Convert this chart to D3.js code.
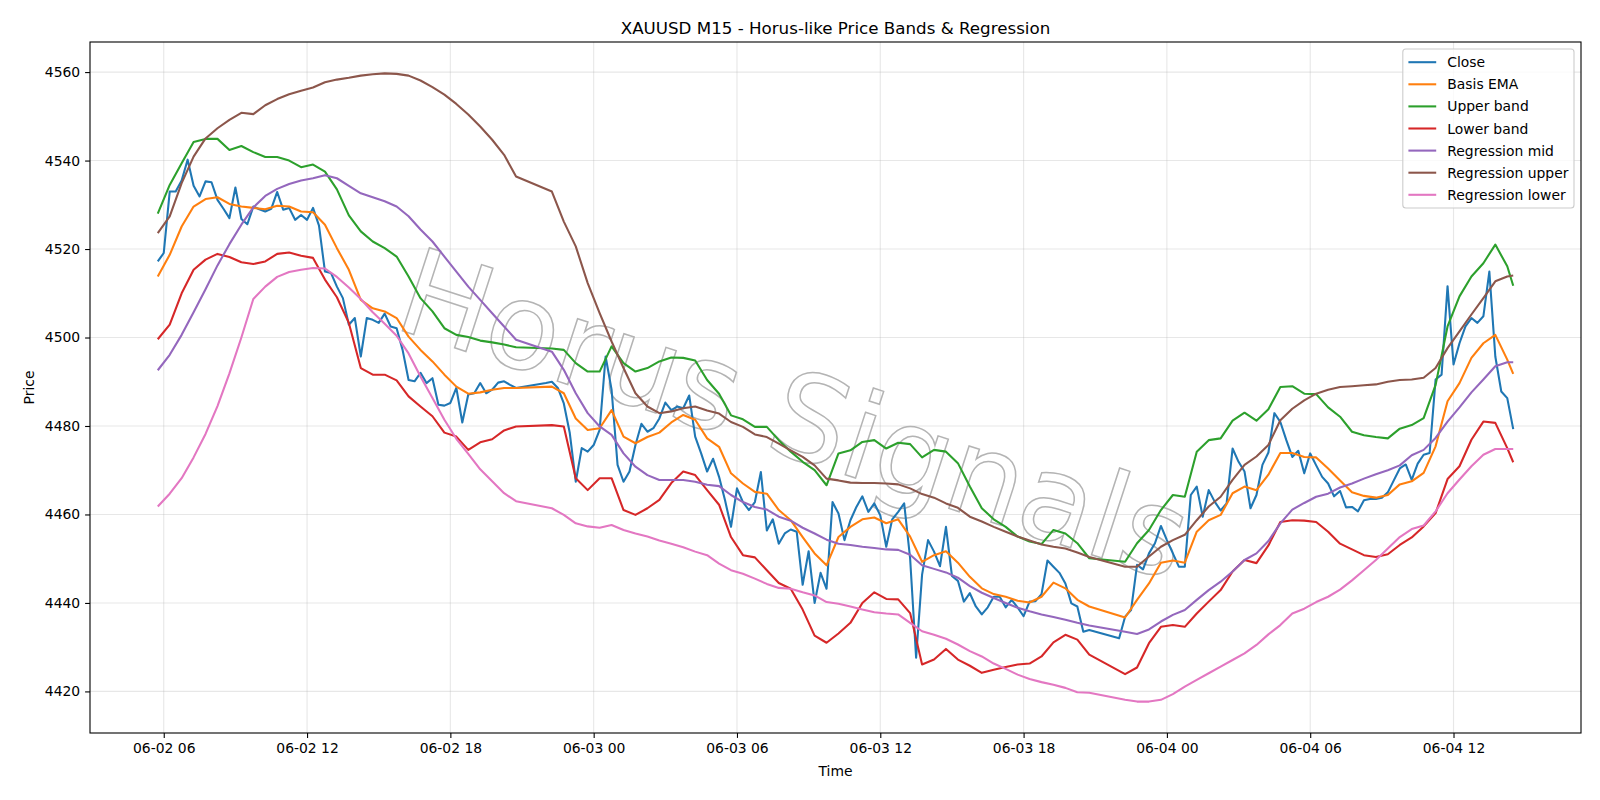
<!DOCTYPE html>
<html>
<head>
<meta charset="utf-8">
<script src="https://cdn.jsdelivr.net/npm/d3@7"></script>
<style>
    body { margin: 0; background: #fff; }
    text { font-family: "DejaVu Sans", sans-serif; }
</style>
</head>
<body>
<svg id="chart" width="1600" height="800"></svg>
<script>
// M15 bars, trading sessions (daily break 21:00-22:00 has no bars)
let sessions = [
    ["2025-06-02T05:45:00Z", "2025-06-02T20:45:00Z"],
    ["2025-06-02T22:00:00Z", "2025-06-03T20:45:00Z"],
    ["2025-06-03T22:00:00Z", "2025-06-04T14:30:00Z"]
]

// close, one value per bar
let close = [
    4517.2, 4519.1, 4533.0, 4533.0, 4535.5, 4540.2, 4534.3, 4531.9, 4535.3, 4535.1,
    4531.1, 4529.1, 4527.0, 4533.9, 4526.8, 4525.6, 4529.6, 4529.0, 4528.5, 4529.1,
    4532.9, 4528.9, 4529.3, 4526.6, 4527.7, 4526.6, 4529.3, 4525.3, 4514.9, 4514.6,
    4511.5, 4508.9, 4502.9, 4504.4, 4495.7, 4504.4, 4504.0, 4503.3, 4505.4, 4502.5,
    4502.1, 4497.2, 4490.4, 4490.1, 4492.0, 4489.7, 4490.8, 4484.8, 4484.6, 4485.2,
    4488.6, 4480.8, 4487.1, 4487.4, 4489.7, 4487.4, 4488.2, 4489.8, 4490.1, 4489.3,
    4488.6,
    4489.7, 4490.0, 4488.6, 4485.1, 4478.4, 4467.4, 4475.0, 4474.2, 4475.7, 4479.1,
    4495.7, 4488.2, 4471.2, 4467.4, 4469.7, 4475.7, 4480.5, 4478.7, 4479.5, 4481.7,
    4485.3, 4483.6, 4484.4, 4484.0, 4486.9, 4477.6, 4473.8, 4469.7, 4472.6, 4468.5,
    4463.2, 4457.2, 4465.9, 4462.8, 4461.0, 4462.8, 4469.6, 4456.4, 4458.9, 4453.4,
    4455.7, 4456.6, 4456.1, 4444.1, 4451.7, 4440.0, 4446.8, 4443.2, 4462.8, 4460.2,
    4454.2, 4458.7, 4461.7, 4464.1, 4460.6, 4462.5, 4459.8, 4452.7, 4458.9, 4460.6,
    4462.5, 4450.0, 4427.6, 4446.4, 4454.2, 4451.6, 4448.3, 4457.2, 4446.1, 4445.0,
    4440.3, 4442.2, 4439.2, 4437.4, 4439.0, 4441.4, 4441.4, 4439.0, 4440.7, 4439.0,
    4437.0, 4440.3, 4440.4, 4442.0, 4449.6, 4448.2, 4446.8, 4444.4, 4439.9, 4439.2,
    4433.5, 4433.9,
    4432.0, 4436.9, 4438.4, 4448.6, 4447.6, 4451.2, 4453.5, 4457.4, 4454.2, 4451.2,
    4448.2, 4448.2, 4464.4, 4466.3, 4459.5, 4465.5, 4462.9, 4460.9, 4462.5, 4474.9,
    4471.9, 4469.7, 4461.4, 4464.4, 4471.2, 4474.0, 4482.9, 4480.9, 4476.8, 4473.0,
    4474.4, 4469.3, 4473.8, 4471.1, 4468.5, 4467.0, 4464.1, 4465.3, 4461.6, 4461.7,
    4460.7, 4463.2, 4463.5, 4463.5, 4463.8, 4465.0, 4467.7, 4470.4, 4471.3, 4467.8,
    4471.5, 4473.5, 4473.9, 4490.5, 4491.6, 4511.6, 4493.9, 4498.7, 4502.5, 4504.4,
    4503.3, 4504.8, 4514.9, 4495.7, 4487.8, 4486.3, 4479.3
]

// the other lines: read every 2nd bar, plus the last bar
let basisEma = [
    4513.8, 4518.7, 4525.1, 4529.6, 4531.3, 4531.7, 4530.2, 4529.6, 4529.3, 4529.0,
    4529.8, 4529.6, 4528.5, 4528.3, 4525.5, 4520.2, 4515.3, 4508.5, 4506.6, 4505.9,
    4504.4, 4500.2, 4497.2, 4494.6, 4491.6, 4488.9, 4487.3, 4487.6, 4488.2, 4488.6,
    4488.6,
    4488.9, 4487.4, 4481.7, 4479.1, 4479.5, 4483.6, 4477.6, 4476.1, 4477.5, 4478.5,
    4480.8, 4482.5, 4481.4, 4477.2, 4475.3, 4469.3, 4467.0, 4465.1, 4464.7, 4461.0,
    4458.7, 4454.9, 4451.2, 4448.5, 4454.9, 4457.2, 4458.9, 4459.3, 4458.0, 4458.9,
    4455.0, 4449.3, 4450.8, 4451.7, 4449.1, 4445.9, 4443.3, 4442.0, 4441.4, 4440.5,
    4440.1, 4441.4, 4444.6, 4443.3, 4440.7, 4439.2,
    4436.7, 4440.7, 4444.4, 4449.1, 4449.6, 4449.1, 4456.1, 4458.7, 4459.9, 4464.8,
    4466.3, 4465.5, 4469.0, 4473.9, 4473.9, 4473.0, 4472.9, 4470.4, 4467.7, 4465.0,
    4464.2, 4463.8, 4464.4, 4466.8, 4467.5, 4469.4, 4475.4, 4485.6, 4489.7, 4495.4,
    4498.7, 4500.6, 4495.0,
    4491.8
]

let upperBand = [
    4528.0, 4534.5, 4539.4, 4544.2, 4544.9, 4544.9, 4542.4, 4543.3, 4541.9, 4540.8,
    4540.8, 4540.0, 4538.5, 4539.1, 4537.5, 4533.5, 4527.6, 4524.0, 4521.7, 4520.2,
    4518.3, 4513.8, 4508.9, 4505.9, 4502.1, 4500.6, 4500.1, 4499.3, 4498.9, 4498.4,
    4497.8,
    4497.5, 4497.2, 4494.2, 4492.3, 4492.3, 4498.0, 4494.2, 4492.3, 4493.1, 4494.6,
    4495.5, 4495.4, 4494.8, 4490.4, 4487.3, 4482.4, 4481.5, 4479.8, 4479.8, 4476.8,
    4474.2, 4471.9, 4470.0, 4466.6, 4473.8, 4474.5, 4476.4, 4476.8, 4474.9, 4476.2,
    4475.9, 4472.9, 4474.6, 4474.2, 4471.6, 4466.3, 4461.4, 4458.9, 4457.2, 4455.0,
    4453.9, 4453.3, 4456.5, 4455.7, 4453.5, 4450.1,
    4449.3, 4453.5, 4456.5, 4461.0, 4464.4, 4464.0, 4474.2, 4476.8, 4477.2, 4481.2,
    4483.0, 4481.2, 4483.8, 4488.8, 4489.0, 4487.3, 4487.2, 4484.2, 4482.1, 4478.7,
    4477.9, 4477.5, 4477.2, 4479.4, 4480.2, 4481.8, 4489.3, 4502.5, 4509.3, 4513.8,
    4516.8, 4521.0, 4516.1,
    4511.7
]

let lowerBand = [
    4499.6, 4502.9, 4510.0, 4515.3, 4517.6, 4518.9, 4518.2, 4517.0, 4516.6, 4517.2,
    4518.9, 4519.2, 4518.5, 4518.0, 4513.1, 4509.1, 4503.3, 4493.1, 4491.6, 4491.6,
    4490.3, 4486.7, 4484.4, 4482.2, 4478.5, 4477.6, 4474.6, 4476.3, 4477.0, 4479.0,
    4479.9,
    4480.2, 4479.9, 4468.2, 4465.5, 4468.2, 4468.2, 4461.0, 4459.9, 4461.4, 4463.3,
    4467.1, 4469.7, 4468.9, 4465.5, 4462.2, 4454.9, 4450.8, 4450.3, 4447.4, 4444.5,
    4443.2, 4438.5, 4432.6, 4431.0, 4433.1, 4435.5, 4440.0, 4442.4, 4440.9, 4440.8,
    4437.7, 4426.1, 4427.2, 4429.6, 4427.2, 4425.8, 4424.2, 4424.9, 4425.5, 4426.1,
    4426.3, 4427.9, 4431.1, 4432.8, 4431.7, 4428.3,
    4423.9, 4425.4, 4430.9, 4434.6, 4435.0, 4434.6, 4437.6, 4440.3, 4442.9, 4447.1,
    4449.7, 4449.0, 4453.0, 4458.3, 4458.7, 4458.6, 4458.3, 4456.1, 4453.4, 4452.1,
    4450.8, 4450.4, 4451.0, 4453.1, 4454.8, 4457.3, 4460.3, 4468.0, 4470.9, 4476.9,
    4481.0, 4480.7, 4475.0,
    4471.8
]

let regMid = [
    4492.6, 4496.1, 4500.6, 4505.7, 4510.9, 4516.3, 4521.1, 4525.5, 4529.4, 4532.0,
    4533.6, 4534.7, 4535.5, 4536.0, 4536.7, 4536.0, 4534.3, 4532.6, 4531.7, 4530.8,
    4529.6, 4527.4, 4524.4, 4521.7, 4518.3, 4514.9, 4511.5, 4508.5, 4505.5, 4502.5,
    4499.5,
    4496.8, 4492.7, 4487.4, 4482.9, 4479.9, 4478.0, 4473.8, 4470.8, 4468.9, 4467.8,
    4467.8, 4467.8, 4467.4, 4466.7, 4466.4, 4464.4, 4462.8, 4461.7, 4461.1, 4459.5,
    4458.6, 4457.0, 4455.7, 4454.3, 4453.4, 4453.1, 4452.7, 4452.4, 4452.1, 4452.0,
    4450.9, 4448.5, 4447.7, 4446.9, 4445.7, 4443.8, 4442.3, 4441.1, 4440.0, 4438.9,
    4438.1, 4437.4, 4436.8, 4436.2, 4435.5, 4434.9,
    4433.5, 4433.0, 4434.0, 4435.8, 4437.3, 4438.4, 4440.7, 4442.9, 4444.8, 4447.1,
    4449.7, 4451.2, 4454.0, 4458.0, 4461.1, 4462.6, 4464.0, 4464.7, 4466.1, 4467.0,
    4468.1, 4469.1, 4470.0, 4471.1, 4473.4, 4474.6, 4477.3, 4481.0, 4484.2, 4487.6,
    4490.5, 4493.5, 4494.4,
    4494.4
]

let regUpper = [
    4523.6, 4527.4, 4534.9, 4540.9, 4545.0, 4547.3, 4549.2, 4550.8, 4550.5, 4552.5,
    4553.9, 4555.0, 4555.8, 4556.5, 4557.7, 4558.3, 4558.7, 4559.2, 4559.5, 4559.7,
    4559.6, 4559.2, 4558.1, 4556.6, 4554.9, 4552.8, 4550.4, 4547.7, 4544.7, 4541.3,
    4536.4,
    4533.0, 4526.2, 4520.6, 4512.3, 4505.5, 4499.1, 4493.1, 4487.4, 4484.4, 4482.9,
    4483.3, 4484.0, 4484.4, 4483.5, 4482.8, 4480.9, 4479.8, 4478.1, 4477.5, 4476.0,
    4474.5, 4473.0, 4471.1, 4468.1, 4467.7, 4467.2, 4467.1, 4467.1, 4467.0, 4466.8,
    4465.9, 4464.6, 4463.8, 4462.5, 4461.5, 4459.5, 4458.4, 4457.2, 4456.1, 4455.0,
    4454.1, 4453.2, 4452.7, 4452.3, 4451.4, 4450.4,
    4448.2, 4448.2, 4450.5, 4452.7, 4454.2, 4455.4, 4458.7, 4461.8, 4464.0, 4467.8,
    4471.2, 4473.1, 4475.7, 4481.3, 4483.9, 4485.8, 4487.3, 4488.2, 4488.8, 4489.0,
    4489.2, 4489.4, 4490.0, 4490.4, 4490.5, 4490.9, 4493.1, 4497.6, 4501.4, 4505.2,
    4508.9, 4512.7, 4513.8,
    4514.0
]

let regLower = [
    4461.8, 4464.7, 4468.2, 4472.9, 4478.2, 4484.5, 4491.9, 4500.0, 4508.7, 4511.5,
    4513.7, 4514.8, 4515.3, 4515.7, 4515.6, 4513.7, 4511.3, 4508.7, 4505.7, 4503.1,
    4500.4, 4496.4, 4491.2, 4486.3, 4481.4, 4477.1, 4473.7, 4470.2, 4467.5, 4464.8,
    4463.0,
    4461.4, 4459.9, 4458.0, 4457.3, 4457.0, 4457.6, 4456.5, 4455.7, 4455.0, 4454.1,
    4453.4, 4452.6, 4451.6, 4450.8, 4448.9, 4447.4, 4446.6, 4445.5, 4444.3, 4443.4,
    4443.2, 4442.4, 4441.7, 4440.2, 4439.8, 4439.2, 4438.5, 4437.9, 4437.6, 4437.4,
    4435.5, 4433.6, 4432.8, 4431.9, 4430.6, 4429.1, 4427.9, 4426.3, 4425.1, 4423.8,
    4422.8, 4422.1, 4421.5, 4420.8, 4419.8, 4419.7,
    4418.1, 4417.7, 4417.7, 4418.1, 4419.4, 4421.1, 4422.6, 4424.1, 4425.6, 4427.1,
    4428.6, 4430.5, 4432.9, 4435.0, 4437.6, 4438.7, 4440.2, 4441.4, 4443.0, 4445.1,
    4447.4, 4449.7, 4452.3, 4454.9, 4456.7, 4457.5, 4460.7, 4464.8, 4467.9, 4470.9,
    4473.5, 4474.8, 4474.8,
    4474.8
]

let seriesNames = ["Close", "Basis EMA", "Upper band", "Lower band", "Regression mid", "Regression upper", "Regression lower"]
let colors = ["#1f77b4", "#ff7f0e", "#2ca02c", "#d62728", "#9467bd", "#8c564b", "#e377c2"]

let titleText = "XAUUSD M15 - Horus-like Price Bands & Regression"
let watermark = "Horus Signals"


// ---- layout (matplotlib 16x8 figure at 100 dpi)
let width = 1600
let height = 800
let plot = { left: 90, right: 1581, top: 42, bottom: 733 }
let fontMain = 13.9

let svg = d3.select('#chart')

svg.append('rect')
    .attr('width', width)
    .attr('height', height)
    .attr('fill', 'white')

// bar times
let bars = []
sessions.forEach(s => {
    let a = new Date(s[0])
    let b = new Date(s[1])
    bars = bars.concat(d3.utcMinute.every(15).range(a, new Date(+b + 1)))
})
let halfIdx = bars.map((d, i) => i).filter(i => i % 2 == 0 || i == bars.length - 1)
let halfBars = halfIdx.map(i => bars[i])

let seriesValues = [close, basisEma, upperBand, lowerBand, regMid, regUpper, regLower]
let series = seriesNames.map((name, k) => {
    let times = k == 0 ? bars : halfBars
    return {
        name: name,
        color: colors[k],
        points: seriesValues[k].map((v, i) => ({ t: times[i], v: v }))
    }
})

// scales with 5% margins like matplotlib
let t0 = bars[0]
let t1 = bars[bars.length - 1]
let tPad = (t1 - t0) * 0.05
let x = d3.scaleUtc()
    .domain([new Date(+t0 - tPad), new Date(+t1 + tPad)])
    .range([plot.left, plot.right])

let allValues = [].concat(...seriesValues)
let vMin = d3.min(allValues)
let vMax = d3.max(allValues)
let vPad = (vMax - vMin) * 0.05
let y = d3.scaleLinear()
    .domain([vMin - vPad, vMax + vPad])
    .range([plot.bottom, plot.top])

let xTicks = d3.utcHour.every(6).range(x.domain()[0], x.domain()[1])
let yTicks = y.ticks(8)

// grid
let grid = svg.append('g')
grid.selectAll('.vgrid')
    .data(xTicks)
    .enter()
    .append('line')
    .attr('x1', d => x(d))
    .attr('x2', d => x(d))
    .attr('y1', plot.top)
    .attr('y2', plot.bottom)
    .attr('stroke', '#b0b0b0')
    .attr('stroke-opacity', 0.3)
    .attr('stroke-width', 1.1)
grid.selectAll('.hgrid')
    .data(yTicks)
    .enter()
    .append('line')
    .attr('x1', plot.left)
    .attr('x2', plot.right)
    .attr('y1', d => y(d))
    .attr('y2', d => y(d))
    .attr('stroke', '#b0b0b0')
    .attr('stroke-opacity', 0.3)
    .attr('stroke-width', 1.1)

// watermark
let wmX = 795
let wmY = 413
svg.append('text')
    .text(watermark)
    .attr('x', wmX)
    .attr('y', wmY)
    .attr('dy', '0.36em')
    .attr('text-anchor', 'middle')
    .attr('font-size', 120)
    .attr('fill', 'none')
    .attr('stroke', '#b4b4b4')
    .attr('stroke-width', 1.5)
    .attr('transform', `rotate(18, ${wmX}, ${wmY})`)

// lines
let line = d3.line()
    .x(d => x(d.t))
    .y(d => y(d.v))

svg.append('g')
    .selectAll('path')
    .data(series)
    .enter()
    .append('path')
    .attr('d', d => line(d.points))
    .attr('fill', 'none')
    .attr('stroke', d => d.color)
    .attr('stroke-width', 2.08)
    .attr('stroke-linejoin', 'round')

// axes
let xAxis = svg.append('g')
    .attr('transform', `translate(0, ${plot.bottom})`)
    .call(d3.axisBottom(x)
        .tickValues(xTicks)
        .tickFormat(d3.utcFormat('%m-%d %H'))
        .tickSize(4.9)
        .tickPadding(4.9))
let yAxis = svg.append('g')
    .attr('transform', `translate(${plot.left}, 0)`)
    .call(d3.axisLeft(y)
        .tickValues(yTicks)
        .tickFormat(d3.format('d'))
        .tickSize(4.9)
        .tickPadding(4.9))

;[xAxis, yAxis].forEach(g => {
    g.select('.domain').remove()
    g.attr('font-family', '"DejaVu Sans", sans-serif')
        .attr('font-size', fontMain)
    g.selectAll('line').attr('stroke', 'black').attr('stroke-width', 1.1)
    g.selectAll('text').attr('fill', 'black')
})

svg.append('rect')
    .attr('x', plot.left)
    .attr('y', plot.top)
    .attr('width', plot.right - plot.left)
    .attr('height', plot.bottom - plot.top)
    .attr('fill', 'none')
    .attr('stroke', 'black')
    .attr('stroke-width', 1.1)

// labels
let midX = (plot.left + plot.right) / 2
svg.append('text')
    .text(titleText)
    .attr('x', midX)
    .attr('y', 33.5)
    .attr('text-anchor', 'middle')
    .attr('font-size', 16.7)

svg.append('text')
    .text('Time')
    .attr('x', midX)
    .attr('y', 776)
    .attr('text-anchor', 'middle')
    .attr('font-size', fontMain)

svg.append('text')
    .text('Price')
    .attr('transform', `translate(34, ${(plot.top + plot.bottom) / 2}) rotate(-90)`)
    .attr('text-anchor', 'middle')
    .attr('font-size', fontMain)

// legend, upper right
let legend = svg.append('g')
let rowH = 22.1
let pad = 5.6
let handleLen = 27.8
let handleGap = 11.1
let legRight = plot.right - 7
let legTop = plot.top + 7

let labels = legend.selectAll('text')
    .data(series)
    .enter()
    .append('text')
    .text(d => d.name)
    .attr('font-size', fontMain)
let textW = d3.max(labels.nodes(), n => n.getComputedTextLength())
let legW = pad + handleLen + handleGap + textW + pad
let legH = pad * 2 + series.length * rowH - 6.9
let legLeft = legRight - legW

legend.insert('rect', 'text')
    .attr('x', legLeft)
    .attr('y', legTop)
    .attr('width', legW)
    .attr('height', legH)
    .attr('rx', 3)
    .attr('fill', 'white')
    .attr('fill-opacity', 0.8)
    .attr('stroke', '#cccccc')
    .attr('stroke-width', 1.1)

let rowY = i => legTop + pad + 7.6 + i * rowH
labels
    .attr('x', legLeft + pad + handleLen + handleGap)
    .attr('y', (d, i) => rowY(i))
    .attr('dy', '0.36em')

legend.selectAll('line')
    .data(series)
    .enter()
    .append('line')
    .attr('x1', legLeft + pad)
    .attr('x2', legLeft + pad + handleLen)
    .attr('y1', (d, i) => rowY(i))
    .attr('y2', (d, i) => rowY(i))
    .attr('stroke', d => d.color)
    .attr('stroke-width', 2.08)
</script>
</body>
</html>
